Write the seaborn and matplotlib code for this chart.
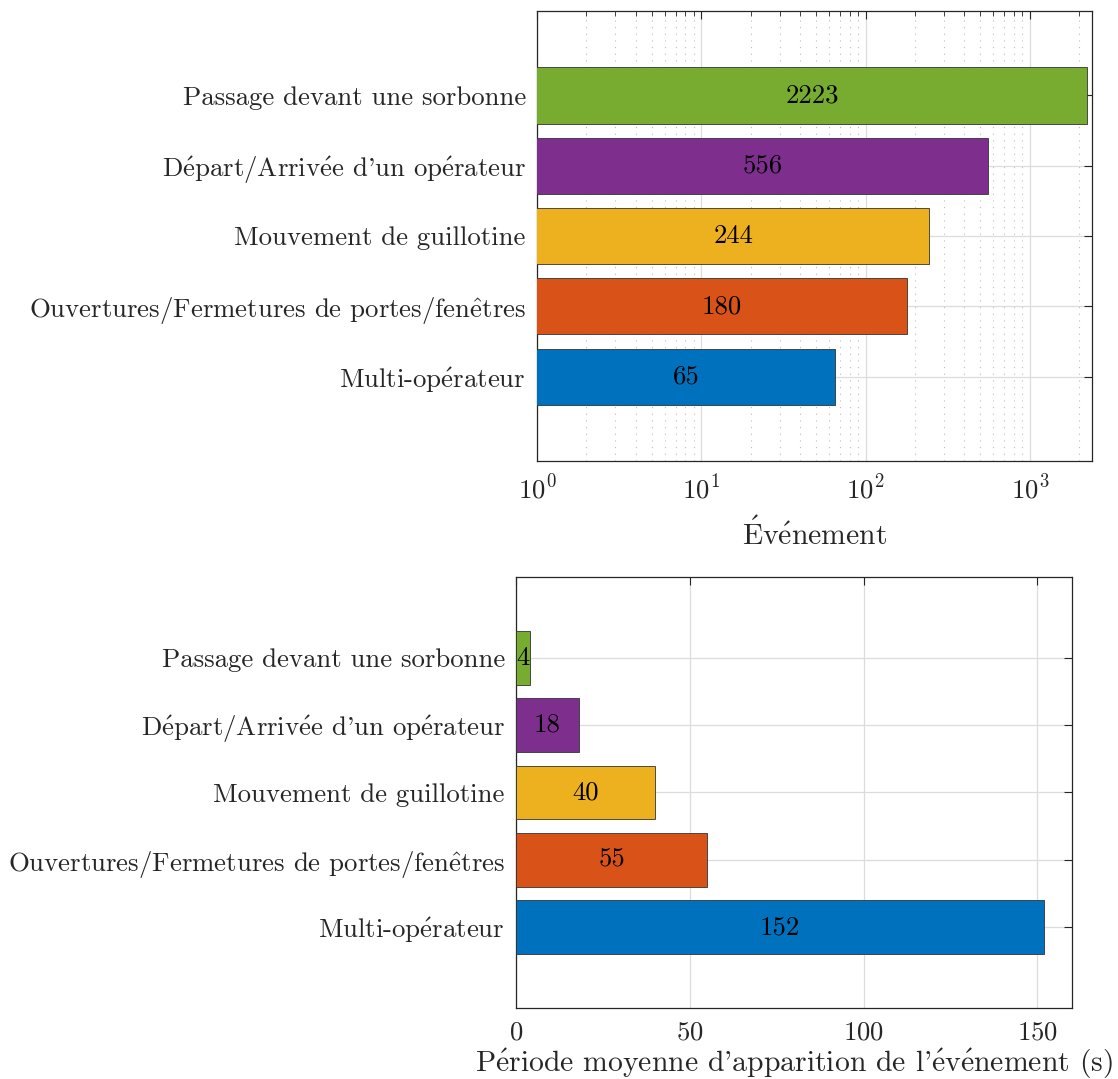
import numpy as np
import pandas as pd
import matplotlib
matplotlib.use("Agg")
import matplotlib.pyplot as plt
import seaborn as sns
from matplotlib.ticker import LogLocator, NullFormatter, MultipleLocator

# Data
categories = ["Passage devant une sorbonne",
              "Départ/Arrivée d'un opérateur",
              "Mouvement de guillotine",
              "Ouvertures/Fermetures de portes/fenêtres",
              "Multi-opérateur"]
event_counts = [2223, 556, 244, 180, 65]
mean_periods = [4, 18, 40, 55, 152]
bar_colors = ["#77AC30", "#7E2F8E", "#EDB120", "#D95319", "#0072BD"]

sns.set_theme(style="white")
plt.rcParams["font.family"] = ["cmr10", "DejaVu Serif"]
plt.rcParams["mathtext.fontset"] = "cm"
plt.rcParams["axes.unicode_minus"] = False
plt.rcParams["axes.formatter.use_mathtext"] = True

text_col = "#262626"
grid_col = "#dcdcdc"
fs = 19.3
fs_lab = 21.4


def tex(s):
    # cmr10 has no accented glyphs, so build them with mathtext accents
    return (s.replace("É", r"$\mathrm{\acute{E}}$")
             .replace("é", r"$\mathrm{\acute{e}}$")
             .replace("ê", r"$\mathrm{\hat{e}}$"))


fig = plt.figure(figsize=(11.18, 10.79), dpi=100)
ax1 = fig.add_axes([0.4803, 0.5727, 0.4964, 0.4171])
ax2 = fig.add_axes([0.4615, 0.0658, 0.4974, 0.3995])

df1 = pd.DataFrame({"cat": categories, "val": event_counts})
df2 = pd.DataFrame({"cat": categories, "val": mean_periods})


def style_axes(ax):
    for s in ax.spines.values():
        s.set_color(text_col)
        s.set_linewidth(0.9)
    ax.tick_params(axis="both", which="both", direction="in", top=True, right=True,
                   colors=text_col, labelcolor=text_col, labelsize=fs)
    ax.tick_params(axis="both", which="major", length=6, width=0.8)
    ax.tick_params(axis="y", which="both", pad=8)
    ax.set_yticks(range(len(categories)))
    ax.set_yticklabels([tex(c) for c in categories])
    ax.set_ylabel("")


# --- top: number of events (log scale) ---
sns.barplot(data=df1, y="cat", x="val", hue="cat", palette=bar_colors, order=categories,
            orient="h", width=0.8, saturation=1, edgecolor="#333333", linewidth=0.6,
            legend=False, ax=ax1, zorder=3)
ax1.set_xscale("log")
ax1.set_xlim(1, 2390)
ax1.set_ylim(4 + 1.2, -1.2)
ax1.xaxis.set_major_locator(LogLocator(base=10, numticks=10))
ax1.xaxis.set_minor_locator(LogLocator(base=10, subs=np.arange(2, 10), numticks=50))
ax1.xaxis.set_minor_formatter(NullFormatter())
ax1.grid(True, which="major", axis="both", color=grid_col, linewidth=0.9, zorder=0)
ax1.grid(True, which="minor", axis="x", color="#bcbcbc", linestyle=(0, (1, 5)),
         linewidth=0.8, zorder=0)
style_axes(ax1)
ax1.tick_params(axis="x", which="both", pad=9)
ax1.tick_params(axis="x", which="minor", length=3.5, width=0.6)
ax1.set_xlabel(tex("Événement"), fontsize=fs_lab, color=text_col, labelpad=10)
for i, v in enumerate(event_counts):
    ax1.text(np.sqrt(v), i, str(v), ha="center", va="center", fontsize=fs,
             color="black", zorder=5)

# --- bottom: mean period between events ---
sns.barplot(data=df2, y="cat", x="val", hue="cat", palette=bar_colors, order=categories,
            orient="h", width=0.8, saturation=1, edgecolor="#333333", linewidth=0.6,
            legend=False, ax=ax2, zorder=3)
ax2.set_xlim(0, 160)
ax2.set_ylim(4 + 1.2, -1.2)
ax2.xaxis.set_major_locator(MultipleLocator(50))
ax2.grid(True, which="major", axis="both", color=grid_col, linewidth=0.9, zorder=0)
style_axes(ax2)
ax2.tick_params(axis="x", which="both", pad=9)
ax2.set_xlabel(tex("Période moyenne d'apparition de l'événement (s)"), fontsize=fs_lab,
               color=text_col, labelpad=2)
for i, v in enumerate(mean_periods):
    ax2.text(v / 2, i, str(v), ha="center", va="center", fontsize=fs,
             color="black", zorder=5)

for ax in (ax1, ax2):
    ax.set_axisbelow(True)

fig.savefig("out.png", dpi=100)
